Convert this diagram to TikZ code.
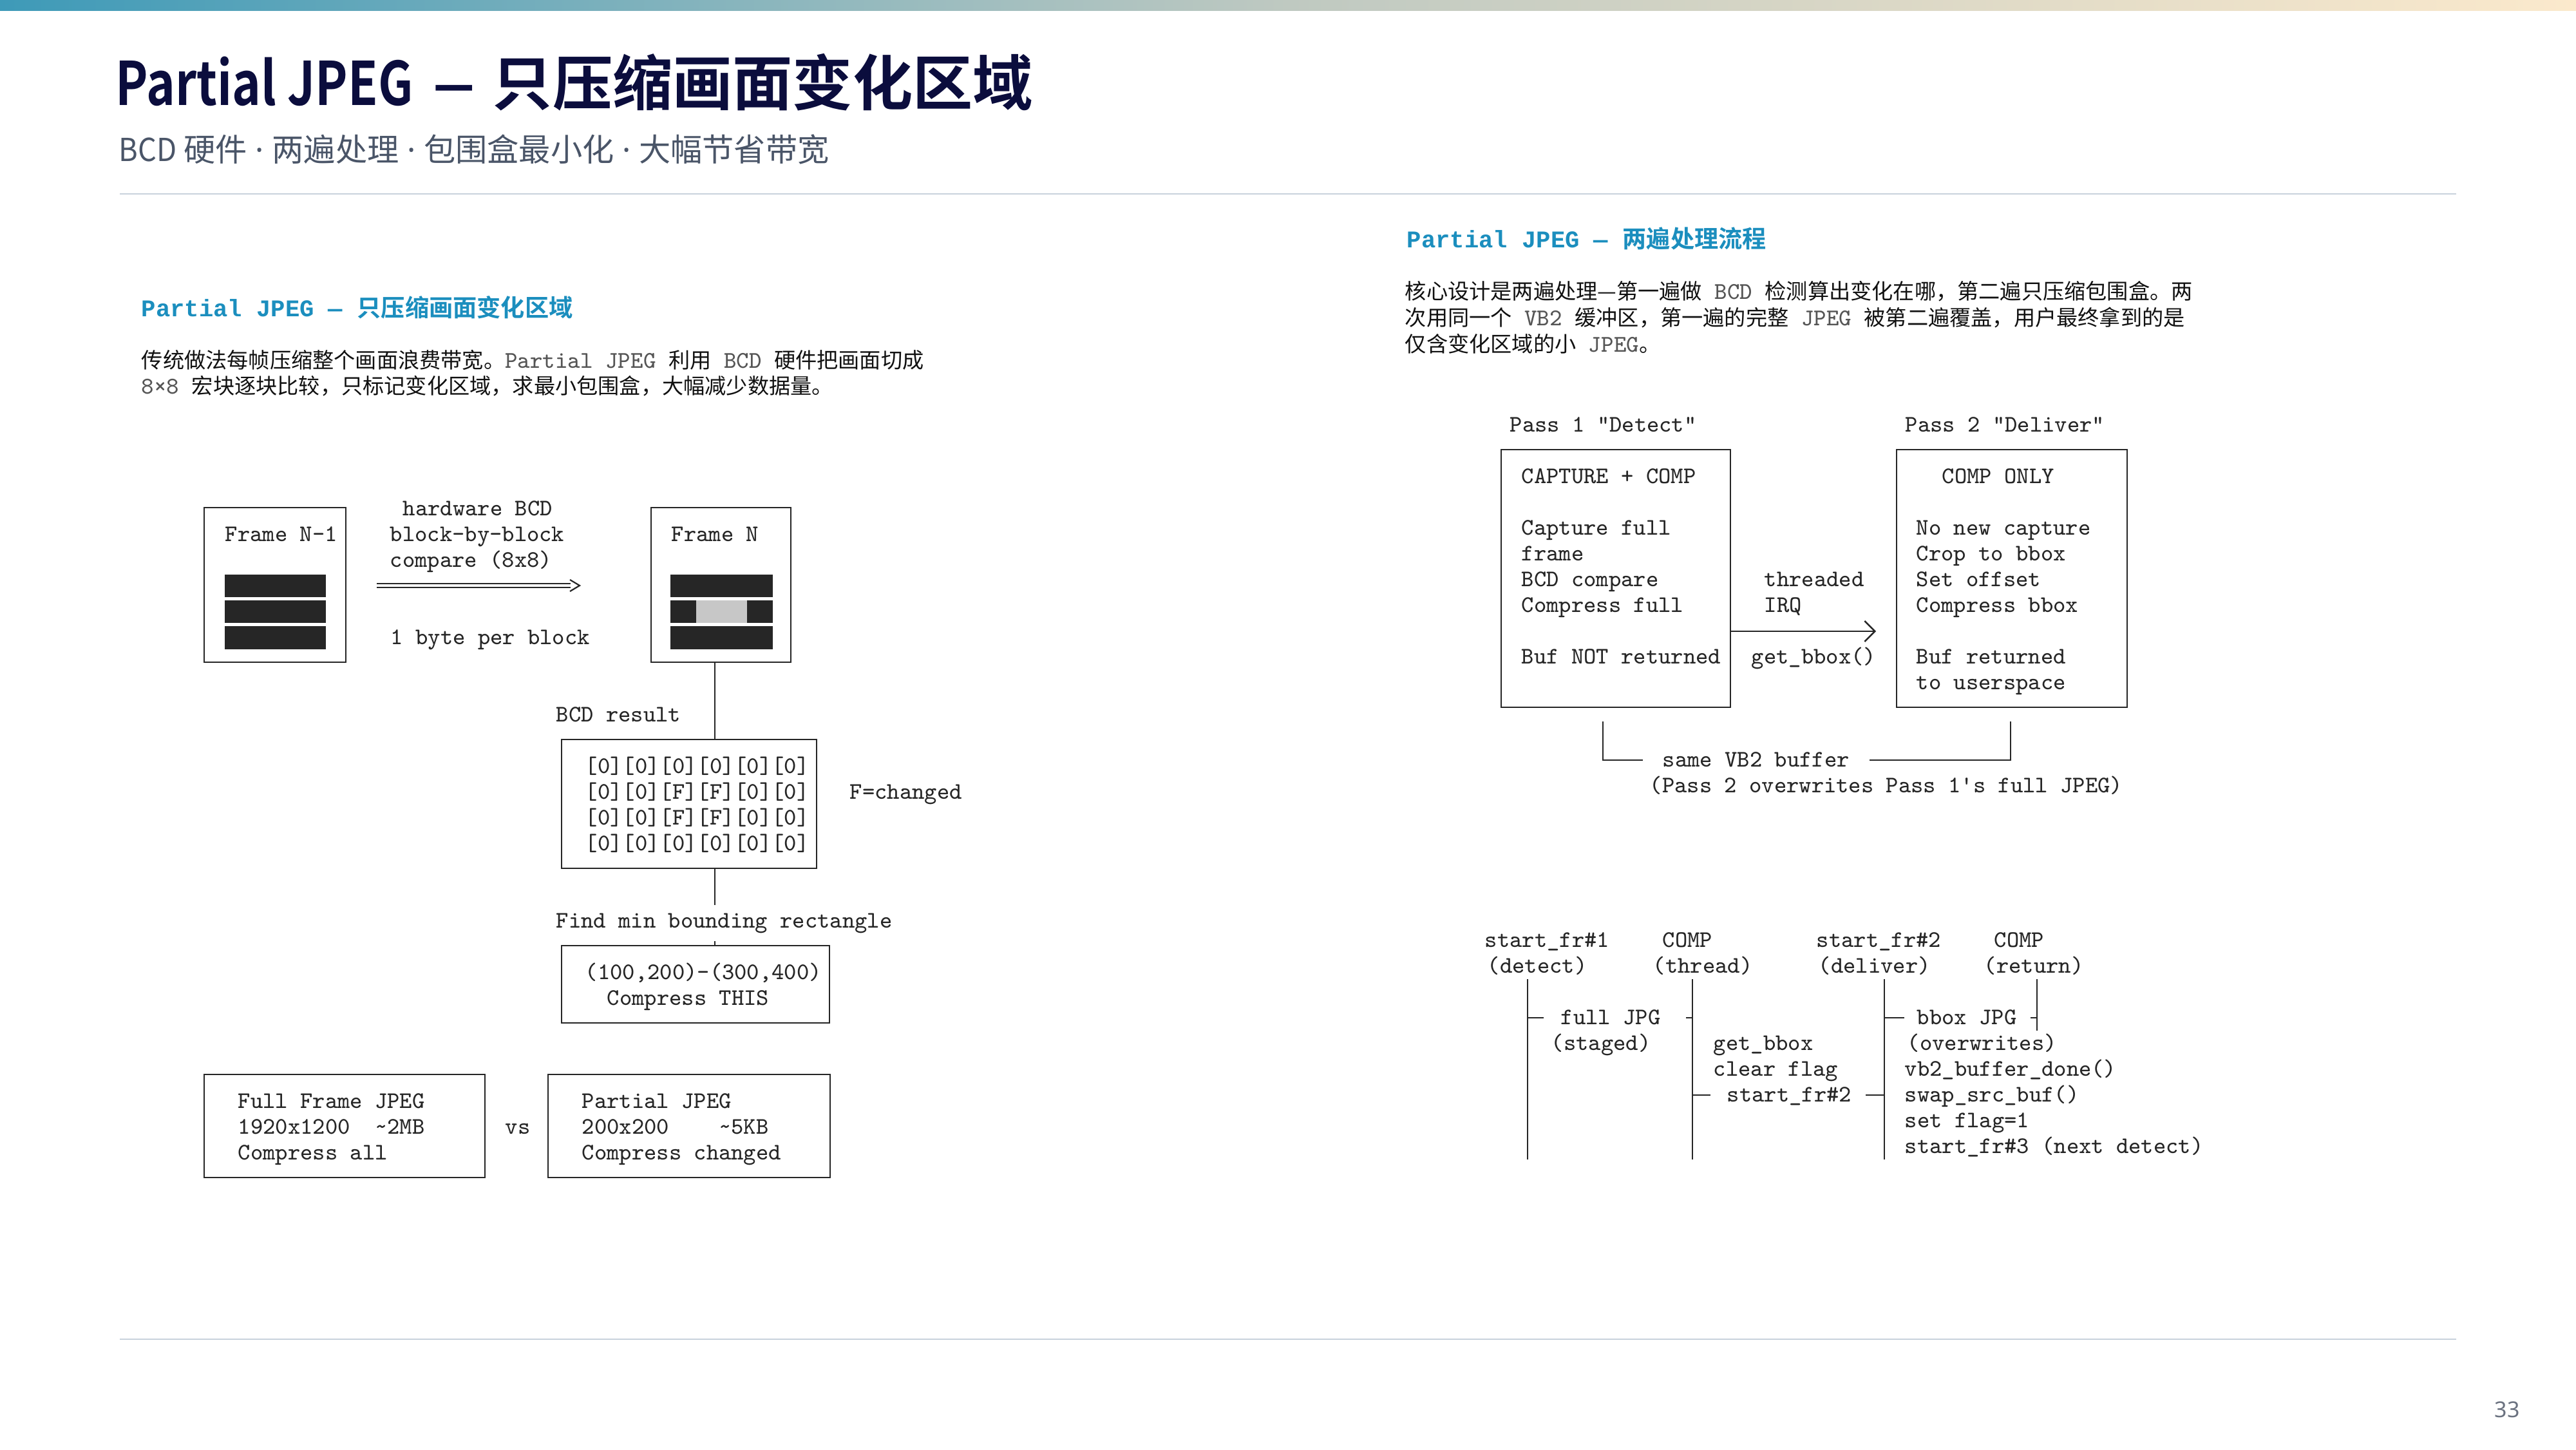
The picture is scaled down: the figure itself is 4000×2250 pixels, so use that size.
\documentclass[tikz,border=0pt]{standalone}
\usepackage{fontspec}
\usetikzlibrary{arrows.meta,calc,fit}
\newfontfamily\cjk{Noto Sans CJK SC}[BoldFont={Noto Sans CJK SC Bold}]
\newfontfamily\hmono{Liberation Mono}
\newfontfamily\pnum{Noto Sans}
\definecolor{titlec}{HTML}{0B0D3D}
\definecolor{subc}{HTML}{4A5568}
\definecolor{headc}{HTML}{1B8EBE}
\definecolor{artc}{HTML}{262626}
\definecolor{parac}{HTML}{111111}
\definecolor{rulec}{HTML}{C8D2DC}
\definecolor{monog}{HTML}{555555}
\definecolor{barL}{HTML}{3E9AB8}
\definecolor{barM}{HTML}{BFC9C1}
\definecolor{barR}{HTML}{FBE9CC}
\definecolor{pnumc}{HTML}{6B7280}
\newcommand\mn[1]{{\ttfamily\color{monog}\fontsize{9.3}{10}\selectfont #1}}
\newcommand\sdot{{\pnum\ ·\ }}
\begin{document}
\begin{tikzpicture}[x=0.25pt,y=-0.25pt,
 art/.style={font=\ttfamily\fontsize{9.2}{10}\selectfont, text=artc, inner sep=0pt, anchor=base west, yshift=-0.8pt},
 abox/.style={draw=artc, line width=0.7pt, inner sep=0pt},
 aline/.style={draw=artc, line width=0.7pt},
 para/.style={font=\cjk\fontsize{8.3}{10}\selectfont, text=parac, inner sep=0pt, anchor=base west},
 head/.style={font=\fontsize{9.3}{11}\selectfont, text=headc, inner sep=0pt, anchor=base west},
 darkblk/.style={fill=artc},
 lightblk/.style={fill=black!22},
 barb/.style={-{Straight Barb[length=4pt,width=8pt,line width=0.6pt]}},
]
\useasboundingbox (0,0) rectangle (4000,2250);
\fill[white] (0,0) rectangle (4000,2250);
\shade[left color=barL, right color=barR, middle color=barM] (0,0) rectangle (4000,16);

% title block
\node[anchor=base west, inner sep=0pt, text=titlec, font=\cjk\bfseries\fontsize{23.3}{28}\selectfont] (title) at (179,163) {\scalebox{0.815}[1]{Partial JPEG}\hspace{8pt}\scalebox{0.75}[1]{—}\hspace{7pt}只压缩画面变化区域};
\node[anchor=base west, inner sep=0pt, text=subc, font=\cjk\fontsize{12.3}{15}\selectfont] (subtitle) at (184,250) {\scalebox{0.92}[1]{BCD} 硬件\sdot 两遍处理\sdot 包围盒最小化\sdot 大幅节省带宽};
\draw[rulec, line width=0.6pt] (186,301) -- (3814,301);
\draw[rulec, line width=0.6pt] (186,2079) -- (3814,2079);
\node[anchor=base west, inner sep=0pt, text=pnumc, font=\pnum\fontsize{8.5}{10}\selectfont] (pg) at (3873,2200) {33};

% left heading and paragraph
\node[head] (lhead) at (219,491) {{\hmono\bfseries Partial JPEG — }{\cjk\bfseries 只压缩画面变化区域}};
\node[para] (lp1) at (219,571) {传统做法每帧压缩整个画面浪费带宽。\mn{Partial JPEG\ }利用\mn{\ BCD\ }硬件把画面切成};
\node[para] (lp2) at (219,611) {\mn{8×8\ }宏块逐块比较，只标记变化区域，求最小包围盒，大幅减少数据量。};

% right heading and paragraph
\node[head] (rhead) at (2184,384) {{\hmono\bfseries Partial JPEG — }{\cjk\bfseries 两遍处理流程}};
\node[para] (rp1) at (2181,464) {核心设计是两遍处理—第一遍做\mn{\ BCD\ }检测算出变化在哪，第二遍只压缩包围盒。两};
\node[para] (rp2) at (2181,505) {次用同一个\mn{\ VB2\ }缓冲区，第一遍的完整\mn{\ JPEG\ }被第二遍覆盖，用户最终拿到的是};
\node[para] (rp3) at (2181,546) {仅含变化区域的小\mn{\ JPEG}。};

% ---------- left diagram ----------
\node[abox, fit={(317,788) (537,1028)}] (fn1) {};
\node[art] (fn1t) at (349,837) {Frame N-1};
\fill[darkblk] (349,892) rectangle (506,927);
\fill[darkblk] (349,932) rectangle (506,967);
\fill[darkblk] (349,972) rectangle (506,1008);

\node[art] (hw1) at (625,797) {hardware BCD};
\node[art] (hw2) at (605,837) {block-by-block};
\node[art] (hw3) at (605,877) {compare (8x8)};
\node[art] (hw4) at (606,997) {1 byte per block};
\coordinate (da1) at (585,909);
\coordinate (da2) at (886,909);
\draw[artc, line width=0.5pt, double=white, double distance=1.1pt] (da1) -- (da2);
\draw[artc, line width=0.55pt] ($(da2)+(-1,-9)$) -- ($(da2)+(14,0)$) -- ($(da2)+(-1,9)$);

\node[abox, fit={(1011,788) (1228,1028)}] (fn) {};
\node[art] (fnt) at (1042,837) {Frame N};
\fill[darkblk] (1041,892) rectangle (1200,927);
\fill[darkblk] (1041,932) rectangle (1081,967);
\fill[lightblk] (1081,932) rectangle (1160,967);
\fill[darkblk] (1160,932) rectangle (1200,967);
\fill[darkblk] (1041,972) rectangle (1200,1008);

\coordinate (vx) at (1110,0);
\node[art] (bcdres) at (863,1117) {BCD result};
\node[abox, fit={(872,1148) (1268,1348)}] (mat) {};
\node[art] (m1) at (908,1197) {[0][0][0][0][0][0]};
\node[art] (m2) at (908,1237) {[0][0][F][F][0][0]};
\node[art] (m3) at (908,1277) {[0][0][F][F][0][0]};
\node[art] (m4) at (908,1317) {[0][0][0][0][0][0]};
\node[art] (fch) at (1319,1237) {F=changed};
\node[art, inner ysep=3pt] (findt) at (863,1437) {Find min bounding rectangle};
\node[abox, fit={(872,1468) (1288,1588)}] (bb) {};
\node[art] (bb1) at (908,1517) {(100,200)-(300,400)};
\node[art] (bb2) at (942,1557) {Compress THIS};

\draw[aline] (vx |- fn.south) -- (vx |- mat.north);
\draw[aline] (vx |- mat.south) -- (vx |- findt.north);
\draw[aline] (vx |- findt.south) -- (vx |- bb.north);

\node[abox, fit={(317,1668) (753,1828)}] (fullb) {};
\node[art] (f1) at (369,1717) {Full Frame JPEG};
\node[art] (f2) at (369,1757) {1920x1200\ \ \textasciitilde 2MB};
\node[art] (f3) at (369,1797) {Compress all};
\node[art] (vs) at (784,1757) {vs};
\node[abox, fit={(851,1668) (1289,1828)}] (partb) {};
\node[art] (p1t) at (903,1717) {Partial JPEG};
\node[art] (p2t) at (903,1757) {200x200\ \ \ \ \textasciitilde 5KB};
\node[art] (p3t) at (903,1797) {Compress changed};

% ---------- right diagram ----------
\node[art] (pass1) at (2344,667) {Pass 1 \textquotedbl Detect\textquotedbl};
\node[art] (pass2) at (2958,667) {Pass 2 \textquotedbl Deliver\textquotedbl};
\node[abox, fit={(2331,698) (2687,1098)}] (p1) {};
\node[abox, fit={(2945,698) (3303,1098)}] (p2) {};
\node[art] (a1) at (2362,747) {CAPTURE + COMP};
\node[art] (a2) at (2362,827) {Capture full};
\node[art] (a3) at (2362,867) {frame};
\node[art] (a4) at (2362,907) {BCD compare};
\node[art] (a5) at (2362,947) {Compress full};
\node[art] (a6) at (2362,1027) {Buf NOT returned};
\node[art] (c1) at (2739,907) {threaded};
\node[art] (c2) at (2739,947) {IRQ};
\node[art] (c3) at (2719,1027) {get\_bbox()};
\node[art] (b1) at (3015,747) {COMP ONLY};
\node[art] (b2) at (2975,827) {No new capture};
\node[art] (b3) at (2975,867) {Crop to bbox};
\node[art] (b4) at (2975,907) {Set offset};
\node[art] (b5) at (2975,947) {Compress bbox};
\node[art] (b6) at (2975,1027) {Buf returned};
\node[art] (b7) at (2975,1067) {to userspace};
\coordinate (irqend) at (2913,980);
\draw[aline, barb] (p1.east |- irqend) -- (irqend);

\coordinate (bl) at (2489,1120);
\coordinate (br) at (3122,1120);
\coordinate (bm1) at (2551,1180);
\coordinate (bm2) at (2903,1180);
\node[art] (vb) at (2581,1187) {same VB2 buffer};
\node[art] (vbn) at (2561,1227) {(Pass 2 overwrites Pass 1\textquotesingle s full JPEG)};
\draw[aline] (bl) |- (bm1);
\draw[aline] (bm2) -| (br);

% ---------- timeline ----------
\node[art] (h1) at (2305,1467) {start\_fr\#1};
\node[art] (h1b) at (2309,1507) {(detect)};
\node[art] (h2) at (2581,1467) {COMP};
\node[art] (h2b) at (2566,1507) {(thread)};
\node[art] (h3) at (2820,1467) {start\_fr\#2};
\node[art] (h3b) at (2823,1507) {(deliver)};
\node[art] (h4) at (3096,1467) {COMP};
\node[art] (h4b) at (3080,1507) {(return)};

\coordinate (l1t) at (2372,1520); \coordinate (l1b) at (2372,1800);
\coordinate (l2t) at (2628,1520); \coordinate (l2b) at (2628,1800);
\coordinate (l3t) at (2926,1520); \coordinate (l3b) at (2926,1800);
\coordinate (l4t) at (3163,1520); \coordinate (l4b) at (3163,1600);
\draw[aline] (l1t) -- (l1b);
\draw[aline] (l2t) -- (l2b);
\draw[aline] (l3t) -- (l3b);
\draw[aline] (l4t) -- (l4b);
\coordinate (ra) at (0,1580);
\coordinate (rb) at (0,1700);

\node[art] (mfull) at (2423,1587) {full JPG};
\draw[aline] (l1t |- ra) -- ++(25,0);
\draw[aline] ($(l2t |- ra)+(-10,0)$) -- (l2t |- ra);
\node[art] (mst) at (2408,1627) {(staged)};
\node[art] (g1) at (2660,1627) {get\_bbox};
\node[art] (g2) at (2660,1667) {clear flag};
\node[art] (g3) at (2681,1707) {start\_fr\#2};
\draw[aline] (l2t |- rb) -- ++(28,0);
\draw[aline] ($(l3t |- rb)+(-29,0)$) -- (l3t |- rb);
\node[art] (mbb) at (2976,1587) {bbox JPG};
\draw[aline] (l3t |- ra) -- ++(31,0);
\draw[aline] ($(l4t |- ra)+(-10,0)$) -- (l4t |- ra);
\node[art] (d1) at (2961,1627) {(overwrites)};
\node[art] (d2) at (2957,1667) {vb2\_buffer\_done()};
\node[art] (d3) at (2957,1707) {swap\_src\_buf()};
\node[art] (d4) at (2957,1747) {set flag=1};
\node[art] (d5) at (2957,1787) {start\_fr\#3 (next detect)};
\end{tikzpicture}
\end{document}
